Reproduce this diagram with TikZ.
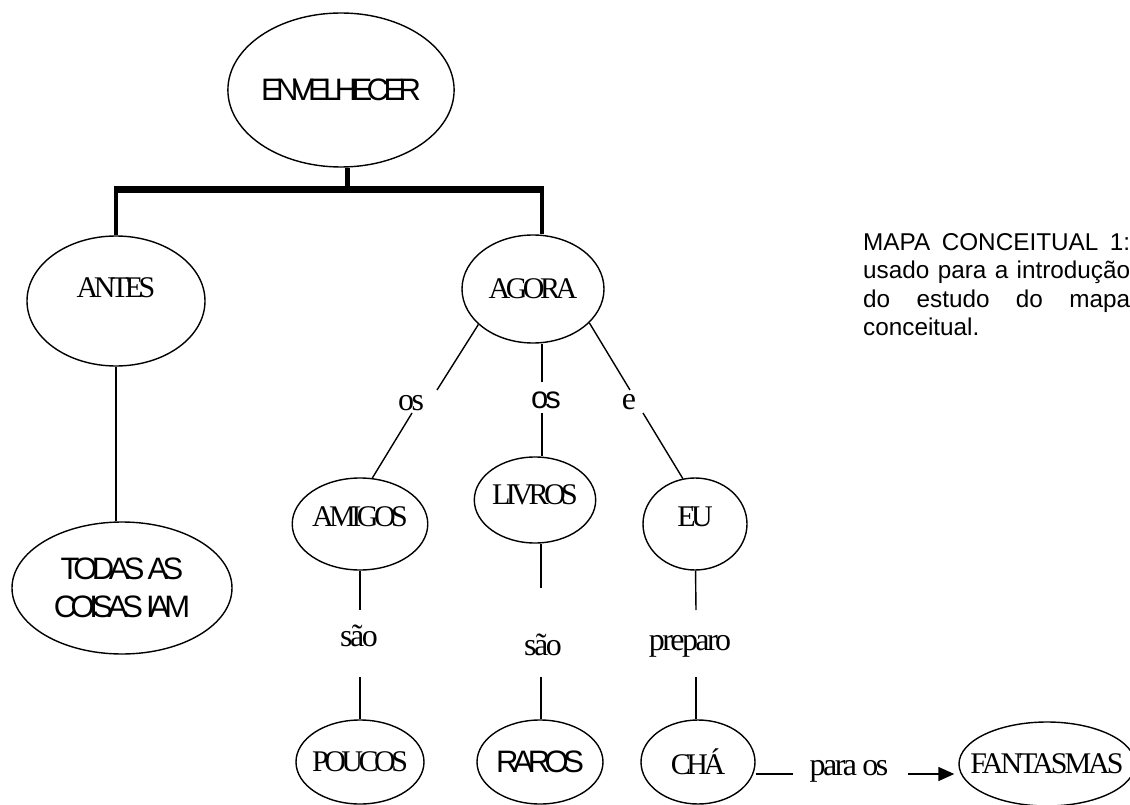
\documentclass[tikz,border=0pt]{standalone}
\usepackage{fontspec}
\setmainfont{Liberation Serif}
% tight serif for concepts, looser serif for linking words, tight sans
\newfontfamily\tmsq[LetterSpace=-15]{Liberation Serif}
\newfontfamily\tmmid[LetterSpace=-10]{Liberation Serif}
\newfontfamily\tmlo[LetterSpace=-8]{Liberation Serif}
\newfontfamily\arsq[LetterSpace=-18]{Liberation Sans}
\newfontfamily\arlo[LetterSpace=-10]{Liberation Sans}
\newfontfamily\arcap{Liberation Sans}
\usetikzlibrary{shapes.geometric,arrows.meta}
\hyphenpenalty=10000
\exhyphenpenalty=10000

\begin{document}
\begin{tikzpicture}[x=1pt,y=-1pt,
  ell/.style={ellipse,draw,line width=1.4pt,inner sep=0pt,
    font=\tmsq\fontsize{30}{32}\selectfont},
  sansell/.style={ell,font=\arsq\fontsize{31}{38}\selectfont},
  link/.style={line width=1.4pt},
  trunk/.style={line width=4pt},
  lbl/.style={inner sep=0pt,font=\tmlo\fontsize{32}{34}\selectfont},
  sanslbl/.style={inner sep=0pt,font=\arlo\fontsize{31}{33}\selectfont},
  tip/.style={link,-{Triangle[length=16pt,width=14pt]}}
]
\useasboundingbox (0,0) rectangle (1130,805);
\clip (0,0) rectangle (1130,805);

% concepts
\node[sansell, minimum width=218pt, minimum height=154pt] (env) at (341,90) {ENVELHECER};
\node[ell, minimum width=178pt, minimum height=130pt, text depth=26pt] (antes) at (116,301) {ANTES};
\node[ell, minimum width=142pt, minimum height=108pt] (agora) at (533,289) {AGORA};
\node[sansell, minimum width=220pt, minimum height=132pt, align=center] (todas) at (122,588) {TODAS AS\\COISAS IAM};
\node[ell, minimum width=128pt, minimum height=92pt, text depth=14pt] (amigos) at (360,524) {AMIGOS};
\node[ell, minimum width=116pt, minimum height=86pt, text depth=10pt] (livros) at (535,500) {LIVROS};
\node[ell, minimum width=104pt, minimum height=92pt, text depth=14pt] (eu) at (695,524) {EU};
\node[ell, minimum width=128pt, minimum height=84pt] (poucos) at (360,762) {\makebox[0pt]{POUCOS}};
\node[sansell, minimum width=126pt, minimum height=84pt] (raros) at (540,762) {\makebox[0pt]{RAROS}};
\node[ell, minimum width=114pt, minimum height=84pt] (cha) at (698,762) {CHÁ};
\node[ell, minimum width=176pt, minimum height=84pt, font=\tmmid\fontsize{30}{32}\selectfont] (fant) at (1047,764) {\makebox[0pt]{FANTASMAS}};

% linking words
\node[lbl] (os1) at (411,403) {os};
\node[sanslbl] (os2) at (546,400) {os};
\node[lbl] (e1) at (629,402) {e};
\node[lbl] (sao1) at (359,636) {são};
\node[lbl] (sao2) at (543,645) {são};
\node[lbl] (prep) at (690,646) {preparo};
\node[lbl] (paraos) at (849,771) {para os};

% caption
\node[anchor=north west, inner sep=0pt, text width=267pt, align=justify,
  font=\arcap\fontsize{24.3}{28.5}\selectfont] (cap) at (863,233)
  {MAPA CONCEITUAL 1: usado para a introdução do estudo do mapa conceitual.};

% heavy bracket from the root
\coordinate (bm) at (347,190);
\coordinate (bl) at (116,190);
\coordinate (br) at (542,190);
\draw[line width=5pt] (bm) -- (bm |- env.south);
\draw[line width=7pt] ([xshift=-2pt]bl) -- ([xshift=2pt]br);
\draw[trunk] (bl) -- (antes.north);
\draw[trunk] (br) -- (br |- agora.north);

% left branch
\draw[link] (antes.south) -- (antes.south |- todas.north);

% AGORA branches
\coordinate (a1) at (437,390); \coordinate (a2) at (412,413);
\coordinate (b1) at (542,382); \coordinate (b2) at (542,413);
\coordinate (c1) at (630,390); \coordinate (c2) at (643,413);
\draw[link] (agora.213) -- (a1);
\draw[link] (a2) -- (amigos.75);
\draw[link] (b1 |- agora.south) -- (b1);
\draw[link] (b2) -- (b2 |- livros.north);
\draw[link] (agora.329) -- (c1);
\draw[link] (c2) -- (eu.105);

% lower verticals
\coordinate (d1) at (360,610); \coordinate (d2) at (360,677);
\coordinate (f1) at (541,588); \coordinate (f2) at (541,677);
\coordinate (h1) at (696,610); \coordinate (h2) at (696,677);
\draw[link] (amigos) -- (d1);
\draw[link] (d2) -- (poucos);
\draw[link] (f1 |- livros.south) -- (f1);
\draw[link] (f2) -- (f2 |- raros.north);
\draw[link] (eu) -- (h1);
\draw[link] (h2) -- (h2 |- cha.north);

% tea for the ghosts
\coordinate (g1) at (793,774); \coordinate (g2) at (908,774);
\draw[link] (g1 -| cha.east) -- (g1);
\draw[tip, shorten >=4pt] (g2) -- (g2 -| fant.west);
\end{tikzpicture}
\end{document}
